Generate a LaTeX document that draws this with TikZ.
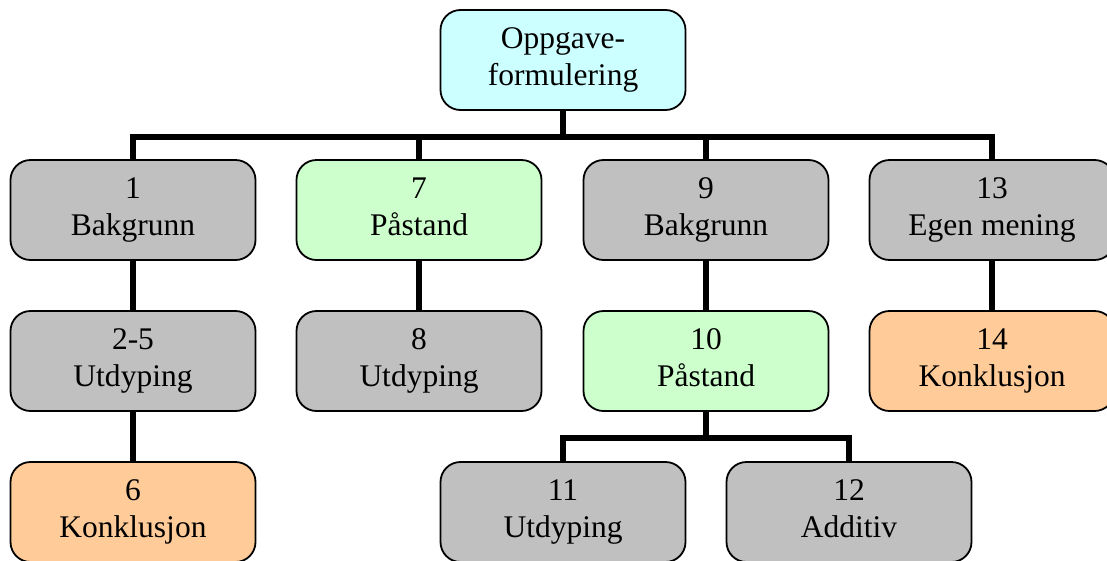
\documentclass[tikz,border=0pt]{standalone}
\usepackage{fontspec}
\setmainfont{Liberation Serif}
\definecolor{boxgray}{HTML}{C0C0C0}
\definecolor{boxgreen}{HTML}{CCFFCC}
\definecolor{boxcyan}{HTML}{CCFFFF}
\definecolor{boxorange}{HTML}{FFCC99}
% two centred lines with equal strut height, so every box sets its text alike
\newcommand{\twolines}[2]{\strut #1\\\strut #2}
\tikzset{
  stepbox/.style={draw=black, line width=1.8pt, rounded corners=20pt,
    minimum width=245pt, minimum height=100pt, align=center,
    inner sep=0pt, font=\fontsize{31.5}{37}\selectfont},
  graybox/.style={stepbox, fill=boxgray},
  greenbox/.style={stepbox, fill=boxgreen},
  cyanbox/.style={stepbox, fill=boxcyan},
  orangebox/.style={stepbox, fill=boxorange},
  conn/.style={draw=black, line width=6pt}
}
\begin{document}
\begin{tikzpicture}[x=1pt, y=-1pt]
  \useasboundingbox (0,0) rectangle (1107,560);
  \clip (0,0) rectangle (1107,560);

  % nodes
  \node[cyanbox]   (top) at (563,60)  {\twolines{Oppgave-}{formulering}};
  \node[graybox]   (n1)  at (133,210) {\twolines{1}{Bakgrunn}};
  \node[greenbox]  (n7)  at (419,210) {\twolines{7}{Påstand}};
  \node[graybox]   (n9)  at (706,210) {\twolines{9}{Bakgrunn}};
  \node[graybox]   (n13) at (992,210) {\twolines{13}{Egen mening}};
  \node[graybox]   (n25) at (133,361) {\twolines{2-5}{Utdyping}};
  \node[graybox]   (n8)  at (419,361) {\twolines{8}{Utdyping}};
  \node[greenbox]  (n10) at (706,361) {\twolines{10}{Påstand}};
  \node[orangebox] (n14) at (992,361) {\twolines{14}{Konklusjon}};
  \node[orangebox] (n6)  at (133,512) {\twolines{6}{Konklusjon}};
  \node[graybox]   (n11) at (563,512) {\twolines{11}{Utdyping}};
  \node[graybox]   (n12) at (849,512) {\twolines{12}{Additiv}};

  % connectors
  \draw[conn] (top.south) -- ++(0,26) coordinate (b0);
  \draw[conn] (n1.north) |- (b0) -| (n13.north);
  \draw[conn] (n7.north) -- (n7.north |- b0);
  \draw[conn] (n9.north) -- (n9.north |- b0);
  \draw[conn] (n1.south) -- (n25.north);
  \draw[conn] (n25.south) -- (n6.north);
  \draw[conn] (n7.south) -- (n8.north);
  \draw[conn] (n9.south) -- (n10.north);
  \draw[conn] (n13.south) -- (n14.north);
  \draw[conn] (n10.south) -- ++(0,26) coordinate (b1);
  \draw[conn] (n11.north) |- (b1) -| (n12.north);
\end{tikzpicture}
\end{document}
